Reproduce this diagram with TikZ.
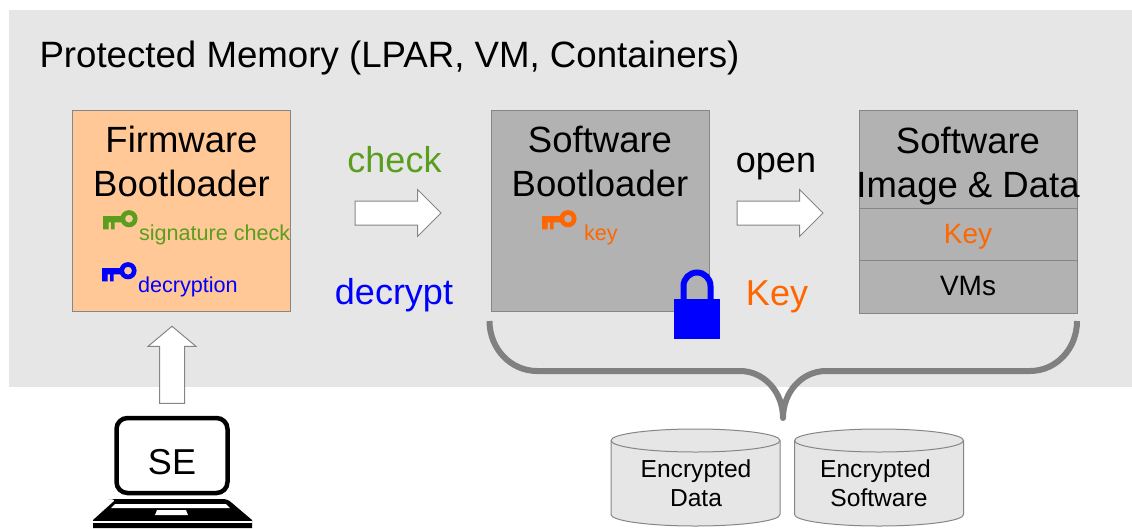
\documentclass[tikz,border=0pt]{standalone}
\usepackage{fontspec}
\setmainfont{Liberation Sans}
\usetikzlibrary{shapes.arrows}
\definecolor{panelgray}{HTML}{E6E6E6}
\definecolor{boxgray}{HTML}{B2B2B2}
\definecolor{peach}{HTML}{FFC896}
\definecolor{edgegray}{HTML}{868686}
\definecolor{bracegray}{HTML}{808080}
\definecolor{keygreen}{HTML}{5A9E1E}
\definecolor{keyorange}{HTML}{FF6600}
\definecolor{keyblue}{HTML}{0000FF}
\newcommand{\fs}[1]{\fontsize{#1}{#1}\selectfont}
\tikzset{
  x=1pt,y=-1pt,
  membox/.style={draw=edgegray,line width=1pt,anchor=north west,inner sep=0pt,outer sep=0pt},
  lbl/.style={inner sep=0pt,outer sep=0pt,anchor=base,align=center},
  stack/.style={lbl,anchor=north,font=\fontsize{36.5}{44}\selectfont},
  blockarrow/.style={shape=single arrow,draw=edgegray,fill=white,line width=1pt,inner sep=0pt,outer sep=0pt,
    single arrow head extend=11.5pt,single arrow tip angle=90,minimum height=86pt},
  dbtext/.style={lbl,anchor=north,font=\fontsize{24.6}{29.2}\selectfont},
  pics/dbcyl/.style={code={
    \draw[draw=edgegray,fill=panelgray,line width=1pt]
      (-84.5,-37) -- (-84.5,37) arc[start angle=180,end angle=0,x radius=84.5,y radius=11.5]
      -- (84.5,-37) arc[start angle=0,end angle=-180,x radius=84.5,y radius=11.5] -- cycle;
    \draw[draw=edgegray,line width=1pt]
      (-84.5,-37) arc[start angle=180,end angle=0,x radius=84.5,y radius=11.5];
  }},
  pics/keyicon/.style={code={
    \fill[#1,even odd rule] (26,8.7) circle (8.6) (26,8.7) circle (4);
    \fill[#1] (0,6) rectangle (20,12.3) (0,6) rectangle (5.6,19.3) (8,6) rectangle (11.6,19.3);
  }}
}
\begin{document}
\begin{tikzpicture}
\useasboundingbox (0,0) rectangle (1132,528);
\fill[white] (0,0) rectangle (1132,528);
\fill[panelgray] (9,10) rectangle (1132,387);
\node[lbl,anchor=base west,font=\fs{36.65}] (title) at (39.5,67) {Protected Memory (LPAR, VM, Containers)};
% boxes
\node[membox,fill=peach,minimum width=218pt,minimum height=201pt] (fw) at (72,110) {};
\node[membox,fill=boxgray,minimum width=218pt,minimum height=201pt] (sw) at (491,110) {};
\node[membox,fill=boxgray,minimum width=218pt,minimum height=98pt] (img) at (859,110) {};
\node[membox,fill=boxgray,minimum width=218pt,minimum height=52pt] (keyrow) at (859,208) {};
\node[membox,fill=boxgray,minimum width=218pt,minimum height=53pt] (vmrow) at (859,260) {};
% box texts
\node[stack] (fwt) at (181.5,126.5) {Firmware\\Bootloader};
\node[stack] (swt) at (600,126.5) {Software\\Bootloader};
\node[stack] (imgt) at (968,127.5) {Software\\Image \& Data};
\node[lbl,font=\fs{28},text=keyorange] (keyt) at (968,243) {Key};
\node[lbl,font=\fs{28}] (vmt) at (968,295) {VMs};
% keys
\pic at (103,210) {keyicon=keygreen};
\pic at (102,262) {keyicon=keyblue};
\pic at (542,210) {keyicon=keyorange};
\node[lbl,anchor=base west,font=\fs{21.6},text=keygreen] (sigt) at (139,240) {signature check};
\node[lbl,anchor=base west,font=\fs{21.6},text=keyblue] (dect) at (138,292) {decryption};
\node[lbl,anchor=base west,font=\fs{21.6},text=keyorange] (kt) at (584,240) {key};
% labels between
\node[lbl,font=\fs{36},text=keygreen] (check) at (394.5,172) {check};
\node[lbl,font=\fs{36},text=keyblue] (decrypt) at (394,304) {decrypt};
\node[lbl,font=\fs{36}] (open) at (776,172) {open};
\node[lbl,font=\fs{36},text=keyorange] (bigkey) at (777,305) {Key};
% block arrows
\node[blockarrow] (a1) at (392,213) {\rule{0pt}{23pt}};
\node[blockarrow] (a2) at (774,213) {\rule{0pt}{23pt}};
\node[blockarrow,rotate=90,minimum height=77pt,single arrow head extend=11.5pt,single arrow tip angle=100] (a3) at (172,370) {\rule{0pt}{24pt}};
% lock
\draw[keyblue,line width=6pt] (683.5,300) -- (683.5,286) arc[start angle=180,end angle=360,radius=13.5] -- (710.5,300);
\fill[keyblue] (674,299) rectangle (720,339);
% brace
\coordinate (bl) at (489.5,321);
\coordinate (bm) at (783,418);
\coordinate (br) at (1077,321);
\draw[bracegray,line width=6pt,line join=round]
  (bl) .. controls (489.5,349) and (511,371) .. (537,371) -- (740,371)
  .. controls (764,371) and (783,392) .. (bm)
  .. controls (783,392) and (802,371) .. (826,371) -- (1030,371)
  .. controls (1056,371) and (1077,349) .. (br);
% cylinders
\pic at (695.5,477.5) {dbcyl};
\pic at (879,477.5) {dbcyl};
\node[dbtext] (d1t) at (696,459.5) {Encrypted\\Data};
\node[dbtext] (d2t) at (879,459.5) {Encrypted\hspace*{7pt}\\Software};
% laptop
\node[draw=black,line width=4.5pt,rounded corners=11pt,fill=white,minimum width=111pt,minimum height=75pt,inner sep=0pt,text height=38pt,font=\fs{36}] (se) at (172,455.5) {SE};
\fill[black] (108,499) -- (222,499) .. controls (226,499) and (229,500) .. (232,503) -- (252,520) -- (252,528) -- (93,528) -- (93,520) -- (113,502) .. controls (116,500) and (114,499) .. (108,499) -- cycle;
\fill[white] (93,520.5) rectangle (252,522.5);
\fill[white] (115,504) -- (226,504) -- (230,508) -- (111,508) -- cycle;
\fill[white] (157,510) -- (186,510) -- (188,515) -- (155,515) -- cycle;
\end{tikzpicture}
\end{document}
